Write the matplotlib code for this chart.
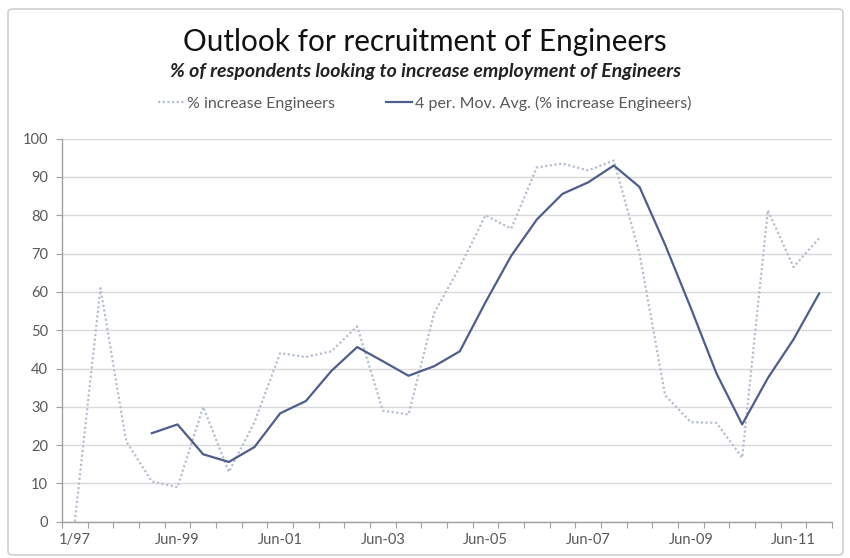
import matplotlib
matplotlib.use("Agg")
import matplotlib.pyplot as plt
from matplotlib.patches import FancyBboxPatch
from matplotlib.lines import Line2D

# ---- data ----
categories = ["1/97", "", "", "", "Jun-99", "", "", "", "Jun-01", "", "", "",
              "Jun-03", "", "", "", "Jun-05", "", "", "", "Jun-07", "", "", "",
              "Jun-09", "", "", "", "Jun-11", ""]
pct_increase = [0, 61, 21, 10.5, 9, 30, 13, 26, 44, 43, 44.5, 51, 29, 28, 54.5,
                66.5, 80, 76.5, 92.5, 93.5, 91.7, 94.3, 70, 33, 26, 25.8, 16.7,
                81.3, 66.5, 74]
mov_avg = [None, None, None, 23.1, 25.4, 17.6, 15.6, 19.5, 28.3, 31.5, 39.4,
           45.6, 41.9, 38.1, 40.6, 44.5, 57.3, 69.4, 78.9, 85.6, 88.6, 93.0,
           87.4, 72.3, 55.8, 38.7, 25.4, 37.5, 47.6, 59.6]
yticks = [0, 10, 20, 30, 40, 50, 60, 70, 80, 90, 100]

title = "Outlook for recruitment of Engineers"
subtitle = "% of respondents looking to increase employment of Engineers"
legend_labels = ["% increase Engineers", "4 per. Mov. Avg. (% increase Engineers)"]

FONT = "Lato"
plt.rcParams["font.family"] = [FONT, "DejaVu Sans"]

W, H = 850, 558
fig = plt.figure(figsize=(W / 100, H / 100), dpi=100)
fig.patch.set_facecolor("white")

# chart-area border
border = FancyBboxPatch((8 / W, 1 - 555 / H), (843 - 8) / W, (555 - 9) / H,
                        boxstyle="round,pad=0,rounding_size=0.006",
                        transform=fig.transFigure, facecolor="none",
                        edgecolor="#d0d0d0", linewidth=1.2)
fig.patches.append(border)

left, right = 62 / W, 832 / W
bottom, top = 1 - 521.7 / H, 1 - 138.7 / H
ax = fig.add_axes([left, bottom, right - left, top - bottom])

x = list(range(len(categories)))
dot_color = "#b6bfcf"
ma_color = "#4e5e8c"
dot_style = (0, (1, 1.1))

ax.plot(x, pct_increase, color=dot_color, linestyle=dot_style, linewidth=1.6,
        zorder=2)
xm = [i for i, v in zip(x, mov_avg) if v is not None]
ym = [v for v in mov_avg if v is not None]
ax.plot(xm, ym, color=ma_color, linewidth=1.6, zorder=3)

ax.set_xlim(-0.5, len(categories) - 0.5)
ax.set_ylim(0, 100)
ax.set_yticks(yticks)
ax.set_yticklabels([str(v) for v in yticks])
ax.yaxis.grid(True, color="#d9d9d9", linewidth=1.0)
ax.set_axisbelow(True)

# category axis: ticks on boundaries, labels at centres
ax.set_xticks([i - 0.5 for i in range(len(categories) + 1)])
ax.set_xticklabels([])
ax.set_xticks(x, minor=True)
ax.set_xticklabels(categories, minor=True)
ax.tick_params(axis="x", which="major", length=4, color="#a0a0a0", direction="out")
ax.tick_params(axis="x", which="minor", length=0, pad=8, labelsize=10.5,
               labelcolor="#595959")
ax.tick_params(axis="y", length=4, color="#a0a0a0", labelsize=10.5,
               labelcolor="#595959", pad=6)

for s in ["top", "right"]:
    ax.spines[s].set_visible(False)
for s in ["left", "bottom"]:
    ax.spines[s].set_color("#a0a0a0")
    ax.spines[s].set_linewidth(1.0)

fig.text(0.5, 1 - 42 / H, title, ha="center", va="center", fontsize=21.3,
         color="#111111")
fig.text(0.5, 1 - 72 / H, subtitle, ha="center", va="center", fontsize=14,
         fontweight="bold", fontstyle="italic", color="#222222")

handles = [Line2D([], [], color=dot_color, linestyle=dot_style, linewidth=1.6),
           Line2D([], [], color=ma_color, linewidth=1.6)]
fig.legend(handles, legend_labels, loc="center", bbox_to_anchor=(0.5, 1 - 103 / H),
           ncol=2, frameon=False, fontsize=11.5, labelcolor="#595959",
           handlelength=1.6, handletextpad=0.2, columnspacing=3.2)

fig.savefig("out.png", dpi=100)
